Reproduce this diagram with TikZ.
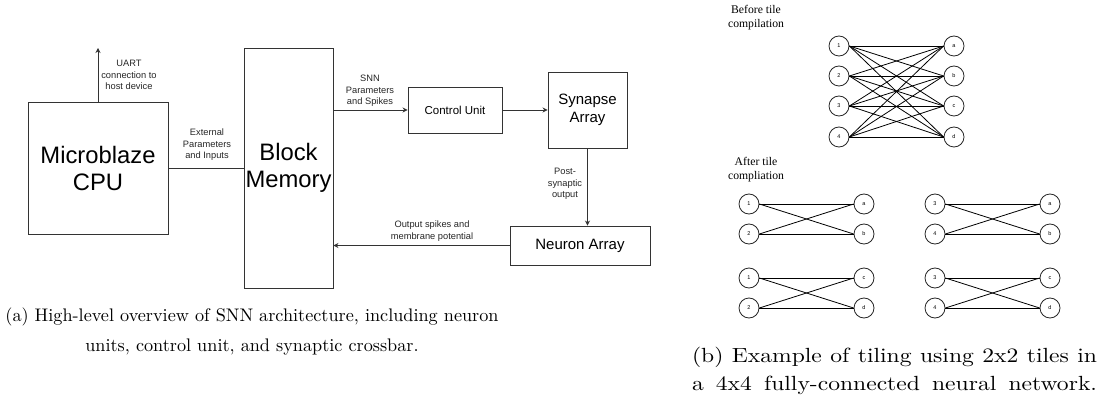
\documentclass[tikz,border=0pt]{standalone}
\usepackage{fontspec}
\newfontfamily\arialf{Liberation Sans}
\newfontfamily\tnrf{Liberation Serif}
\newfontfamily\lmten[Extension=.otf]{lmroman10-regular}
\newfontfamily\lmtenwide[Extension=.otf,FakeStretch=1.15]{lmroman10-regular}
\usetikzlibrary{arrows.meta}
\tikzset{
 blk/.style={draw=black!80, line width=0.9pt, inner sep=0pt, align=center, text=black},
 bigtxt/.style={font={\arialf\fontsize{23.8}{27}\selectfont}},
 midtxt/.style={font={\arialf\fontsize{15}{18}\selectfont}},
 smalltxt/.style={font={\arialf\fontsize{11.5}{14}\selectfont}},
 conn/.style={draw=black!80, line width=0.9pt},
 arr/.style={conn, -{Stealth[length=5pt,width=5pt]}},
 lbl/.style={font={\arialf\fontsize{9.3}{11.5}\selectfont}, align=center, text=black!85, inner sep=0pt},
 neur/.style={circle, draw=black!85, line width=0.8pt, minimum size=20pt, inner sep=0pt, font={\arialf\fontsize{5.5}{6}\selectfont}},
 nedge/.style={draw=black, line width=0.8pt},
 capa/.style={font={\lmten\fontsize{18.2}{30}\selectfont}, align=center, inner sep=0pt},
 capb/.style={font={\lmtenwide\fontsize{20.5}{28}\selectfont}, align=center, inner sep=0pt},
 tlbl/.style={font={\tnrf\fontsize{11.7}{14}\selectfont}, align=center, inner sep=0pt},
}
\begin{document}
\begin{tikzpicture}[x=1pt,y=-1pt]
\useasboundingbox (0,0) rectangle (1101,401);
% (a) block diagram
\node[blk, bigtxt, minimum width=140pt, minimum height=132pt] (cpu) at (98,168) {Microblaze\\CPU};
\node[blk, bigtxt, minimum width=89pt, minimum height=240pt] (mem) at (288.5,168) {Block\\Memory};
\node[blk, smalltxt, minimum width=94pt, minimum height=46pt] (cu) at (455,110) {Control Unit};
\node[blk, midtxt, minimum width=79pt, minimum height=76pt] (syn) at (587.5,110) {Synapse\\Array};
\node[blk, midtxt, minimum width=140pt, minimum height=39pt] (neu) at (580,245.5) {Neuron Array};
\coordinate (uart) at (98,48);
\draw[arr] (cpu.north) -- (uart);
\draw[conn] (cpu.east) -- (mem.west);
\draw[arr] (cu.west -| mem.east) -- (cu.west);
\draw[arr] (cu.east) -- (syn.west);
\draw[arr] (syn.south) -- (syn.south |- neu.north);
\draw[arr] (neu.west) -- (neu.west -| mem.east);
\node[lbl] (luart) at (129,75) {UART\\connection to\\host device};
\node[lbl] (lext) at (207,145) {External\\Parameters\\and Inputs};
\node[lbl] (lsnn) at (370,91) {SNN\\Parameters\\and Spikes};
\node[lbl] (lpost) at (565,184) {Post-\\synaptic\\output};
\node[lbl] (lout) at (432,231) {Output spikes and\\membrane potential};
\node[capa] (capta) at (252,332) {(a) High-level overview of SNN architecture, including neuron\\units, control unit, and synaptic crossbar.};
% (b) tiling
\node[tlbl] (before) at (756,18) {Before tile\\compilation};
\node[tlbl] (after) at (756,169.5) {After tile\\compliation};
\foreach \i/\y in {1/46,2/76,3/106,4/137} \node[neur] (L\i) at (839,\y) {\i};
\foreach \l/\y in {a/46,b/76,c/106,d/137} \node[neur] (R\l) at (954,\y) {\l};
\foreach \i in {1,...,4} \foreach \l in {a,b,c,d} \draw[nedge] (L\i.east) -- (R\l.west);
\foreach \t/\x/\y/\p/\q/\r/\s in {A/749/204/1/2/a/b, B/935/204/3/4/a/b, C/749/278/1/2/c/d, D/935/278/3/4/c/d} {
  \node[neur] (\t p) at (\x,\y) {\p};
  \node[neur] (\t q) at (\x,{\y+30}) {\q};
  \node[neur] (\t r) at ({\x+115},\y) {\r};
  \node[neur] (\t s) at ({\x+115},{\y+30}) {\s};
  \draw[nedge] (\t p.east) -- (\t r.west);
  \draw[nedge] (\t p.east) -- (\t s.west);
  \draw[nedge] (\t q.east) -- (\t r.west);
  \draw[nedge] (\t q.east) -- (\t s.west);
}
\node[capb] (captb) at (894.5,371) {\makebox[405pt][s]{(b) Example of tiling using 2x2 tiles in}\\\makebox[405pt][s]{a 4x4 fully-connected neural network.}};
\end{tikzpicture}
\end{document}
